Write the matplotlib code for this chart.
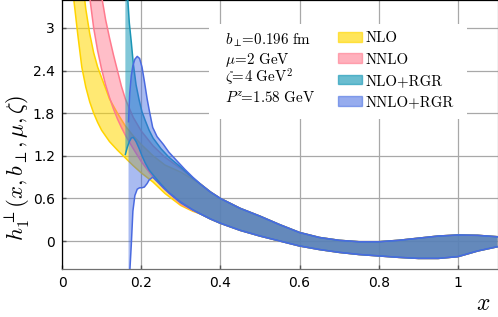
import matplotlib
matplotlib.use('Agg')
import matplotlib.pyplot as plt
from matplotlib.patches import Patch, Rectangle

plt.rcParams['mathtext.fontset'] = 'cm'

# shared tail of all bands (x >= 0.35), they overlap there
x_tail = [0.35, 0.375, 0.4, 0.45, 0.5, 0.55, 0.6, 0.65, 0.7, 0.75, 0.8, 0.85, 0.9, 0.95, 1.0, 1.05, 1.1]
up_tail = [0.8, 0.69, 0.6, 0.46, 0.35, 0.23, 0.12, 0.05, 0.01, -0.01, -0.01, 0.01, 0.04, 0.07, 0.085, 0.08, 0.06]
lo_tail = [0.38, 0.31, 0.25, 0.15, 0.07, 0.0, -0.07, -0.12, -0.16, -0.19, -0.21, -0.23, -0.245, -0.245, -0.22, -0.14, -0.08]

# NLO
x_nlo = [0.026, 0.03, 0.04, 0.05, 0.06, 0.07, 0.08, 0.09, 0.1, 0.12, 0.14, 0.16, 0.18, 0.2, 0.23, 0.26, 0.3, 0.33]
lo_nlo = [3.8, 3.39, 2.9, 2.45, 2.17, 1.96, 1.8, 1.67, 1.56, 1.4, 1.28, 1.17, 1.06, 0.96, 0.83, 0.67, 0.5, 0.42]
up_nlo = [5.5, 5.0, 4.3, 3.75, 3.27, 2.92, 2.65, 2.45, 2.3, 2.0, 1.8, 1.62, 1.48, 1.36, 1.2, 1.07, 0.97, 0.87]

# NNLO
x_nnlo = [0.06, 0.071, 0.08, 0.09, 0.1, 0.11, 0.12, 0.13, 0.14, 0.15, 0.16, 0.18, 0.2, 0.23, 0.26, 0.3, 0.33]
lo_nnlo = [3.9, 3.39, 3.0, 2.68, 2.42, 2.2, 2.02, 1.86, 1.72, 1.6, 1.49, 1.3, 1.12, 0.9, 0.72, 0.52, 0.43]
up_nnlo = [6.0, 5.2, 4.6, 4.0, 3.45, 3.12, 2.86, 2.62, 2.4, 2.18, 2.0, 1.74, 1.55, 1.34, 1.18, 1.02, 0.88]

# NLO+RGR
x_nlo_rgr = [0.16, 0.165, 0.17, 0.175, 0.18, 0.187, 0.195, 0.202, 0.21, 0.22, 0.23, 0.25, 0.27, 0.3, 0.33]
lo_nlo_rgr = [1.22, 1.32, 1.4, 1.45, 1.46, 1.4, 1.3, 1.2, 1.1, 1.0, 0.93, 0.8, 0.68, 0.54, 0.44]
up_nlo_rgr = [4.5, 3.5, 3.07, 2.8, 2.5, 2.2, 1.98, 1.82, 1.7, 1.56, 1.45, 1.3, 1.18, 1.04, 0.89]

# NNLO+RGR
x_nnlo_rgr = [0.168, 0.171, 0.175, 0.179, 0.184, 0.19, 0.196, 0.202, 0.208, 0.215, 0.22, 0.229, 0.24,
              0.256, 0.27, 0.29, 0.31, 0.33]
lo_nnlo_rgr = [-0.6, -0.45, -0.05, 0.42, 0.64, 0.73, 0.75, 0.75, 0.76, 0.81, 0.86, 0.9, 0.84,
               0.75, 0.68, 0.59, 0.51, 0.44]
up_nnlo_rgr = [1.68, 2.08, 2.33, 2.47, 2.56, 2.6, 2.57, 2.45, 2.25, 2.0, 1.85, 1.6, 1.47,
               1.36, 1.25, 1.13, 1.01, 0.9]

labels = ['NLO', 'NNLO', 'NLO+RGR', 'NNLO+RGR']
params = [r'$b_\perp\!\!=\!0.196\ \mathrm{fm}$', r'$\mu\!=\!2\ \mathrm{GeV}$',
          r'$\zeta\!=\!4\ \mathrm{GeV}^2$', r'$P^z\!\!=\!1.58\ \mathrm{GeV}$']
xticks = [0, 0.2, 0.4, 0.6, 0.8, 1.0]
xticklabels = ['0', '0.2', '0.4', '0.6', '0.8', '1']
yticks = [0, 0.6, 1.2, 1.8, 2.4, 3.0]
yticklabels = ['0', '0.6', '1.2', '1.8', '2.4', '3']

bands = [
    (x_nlo + x_tail, lo_nlo + lo_tail, up_nlo + up_tail, '#ffd700', '#ffd400', 0.55),
    (x_nnlo + x_tail, lo_nnlo + lo_tail, up_nnlo + up_tail, '#ff6f85', '#ff7a8e', 0.45),
    (x_nlo_rgr + x_tail, lo_nlo_rgr + lo_tail, up_nlo_rgr + up_tail, '#1a9ab8', '#1a95b5', 0.55),
    (x_nnlo_rgr + x_tail, lo_nnlo_rgr + lo_tail, up_nnlo_rgr + up_tail, '#4169e1', '#4a6ae0', 0.45),
]

fig = plt.figure(figsize=(4.98, 3.17), dpi=100)
ax = fig.add_axes([62 / 498, 48 / 317, 435.6 / 498, 269 / 317])
ax.set_axisbelow(True)

handles = []
for i, (xs, lo, up, fc, lc, a) in enumerate(bands):
    z = 2 + i
    ax.fill_between(xs, lo, up, facecolor=fc, alpha=a, lw=0, zorder=z)
    ax.plot(xs, lo, color=lc, lw=1.1, zorder=z + 0.5)
    ax.plot(xs, up, color=lc, lw=1.1, zorder=z + 0.5)
    handles.append(Patch(facecolor=fc, edgecolor=fc, alpha=a + 0.1, lw=1))

ax.set_xlim(0, 1.1)
ax.set_ylim(-0.394, 3.394)
ax.set_xticks(xticks)
ax.set_xticklabels(xticklabels)
ax.set_yticks(yticks)
ax.set_yticklabels(yticklabels)
ax.tick_params(direction='in', length=3, width=1, color='#555555', labelsize=10, pad=5)
ax.grid(True, color='#a8a8a8', lw=0.9)
for s in ax.spines.values():
    s.set_linewidth(0.9)
ax.spines['bottom'].set_color('#707070')
ax.spines['right'].set_color('#909090')

# white box behind the info text and legend
ax.add_patch(Rectangle((0.337, 0.558), 0.593, 0.353, transform=ax.transAxes,
                       facecolor='white', edgecolor='none', zorder=1))

for i, p in enumerate(params):
    ax.text(0.374, 0.833 - 0.071 * i, p, transform=ax.transAxes, fontsize=10.8,
            va='baseline', ha='left', zorder=10)

leg = ax.legend(handles, labels, loc='upper left', bbox_to_anchor=(0.634, 0.882),
                frameon=False, borderpad=0, borderaxespad=0, handlelength=1.6,
                handleheight=0.65, handletextpad=0.25, labelspacing=0.5,
                prop={'family': 'cmr10', 'size': 10.7})
leg.set_zorder(10)

ax.set_ylabel(r'$h_1^\perp(x,b_\perp,\mu,\zeta)$', fontsize=16.3)
ax.yaxis.set_label_coords(-0.07, 0.375)
ax.set_xlabel(r'$x$', fontsize=17)
ax.xaxis.set_label_coords(0.966, -0.08)

fig.savefig('out.png', dpi=100)
